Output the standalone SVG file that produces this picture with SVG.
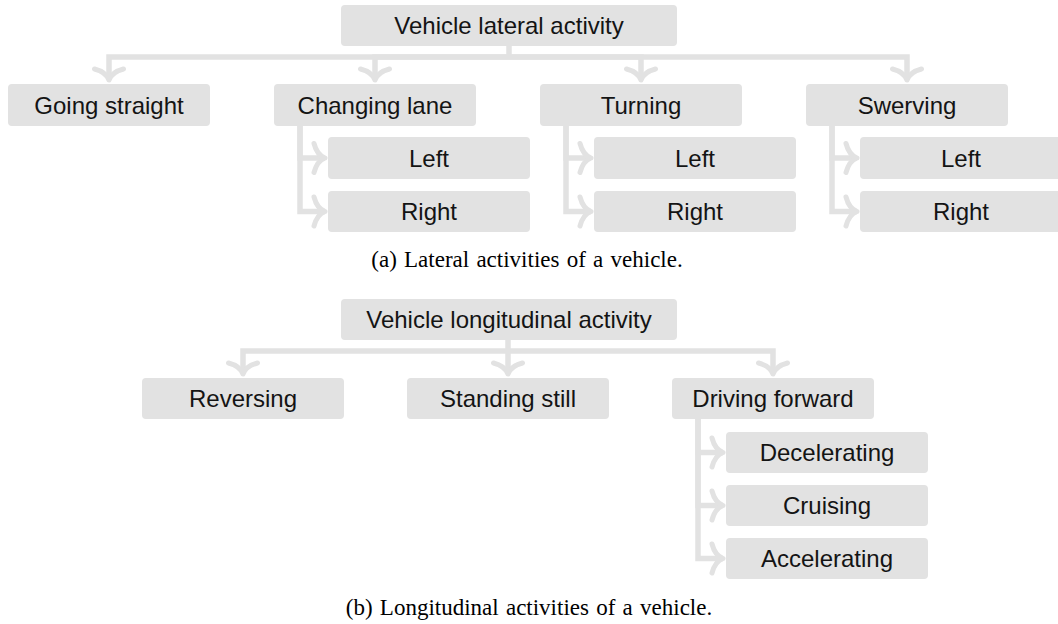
<svg xmlns="http://www.w3.org/2000/svg" width="1058" height="624" viewBox="0 0 1058 624">
<style>
.box{fill:#e2e2e2;}
.lbl{font-family:"Liberation Sans",Arial,sans-serif;font-size:24px;fill:#141414;text-anchor:middle;}
.cap{font-family:"Liberation Serif","Times New Roman",serif;font-size:23px;fill:#000;text-anchor:middle;word-spacing:1.5px;}
.con{fill:none;stroke:#e2e2e2;stroke-width:5.5;stroke-linejoin:miter;marker-end:url(#ah);}
.link{fill:none;stroke:#e2e2e2;stroke-width:5.5;}
</style>
<defs>
<marker id="ah" markerUnits="userSpaceOnUse" orient="auto" refX="0" refY="0" markerWidth="40" markerHeight="40" overflow="visible">
<path d="M -11 -14.5 Q -8 -3 0 0 Q -8 3 -11 14.5" fill="none" stroke="#e2e2e2" stroke-width="5" stroke-linecap="round" stroke-linejoin="round"/>
</marker>
</defs>
<g id="connectors">
<path class="link" d="M 509 46 V 57"/>
<path class="con" d="M 509 57 H 109 V 80"/>
<path class="con" d="M 509 57 H 375 V 80"/>
<path class="con" d="M 509 57 H 641 V 80"/>
<path class="con" d="M 509 57 H 907 V 80"/>
<path class="con" d="M 300 126 V 158 H 325"/>
<path class="con" d="M 300 126 V 211.5 H 325"/>
<path class="con" d="M 566 126 V 158 H 591"/>
<path class="con" d="M 566 126 V 211.5 H 591"/>
<path class="con" d="M 832 126 V 158 H 857"/>
<path class="con" d="M 832 126 V 211.5 H 857"/>
<path class="link" d="M 508 340 V 351"/>
<path class="con" d="M 508 351 H 243 V 374"/>
<path class="con" d="M 508 351 V 374"/>
<path class="con" d="M 508 351 H 773 V 374"/>
<path class="con" d="M 698 419 V 452.5 H 723"/>
<path class="con" d="M 698 419 V 505.5 H 723"/>
<path class="con" d="M 698 419 V 558.5 H 723"/>
</g>
<g id="lateral-root"><rect class="box" x="341" y="5" width="336" height="41" rx="4"/><text class="lbl" x="509" y="34">Vehicle lateral activity</text></g>
<g id="going-straight"><rect class="box" x="8" y="84" width="202" height="42" rx="4"/><text class="lbl" x="109" y="113.5">Going straight</text></g>
<g id="changing-lane"><rect class="box" x="274" y="84" width="202" height="42" rx="4"/><text class="lbl" x="375" y="113.5">Changing lane</text></g>
<g id="turning"><rect class="box" x="540" y="84" width="202" height="42" rx="4"/><text class="lbl" x="641" y="113.5">Turning</text></g>
<g id="swerving"><rect class="box" x="806" y="84" width="202" height="42" rx="4"/><text class="lbl" x="907" y="113.5">Swerving</text></g>
<g id="cl-left"><rect class="box" x="328" y="137" width="202" height="42" rx="4"/><text class="lbl" x="429" y="167">Left</text></g>
<g id="cl-right"><rect class="box" x="328" y="191" width="202" height="41" rx="4"/><text class="lbl" x="429" y="220">Right</text></g>
<g id="tu-left"><rect class="box" x="594" y="137" width="202" height="42" rx="4"/><text class="lbl" x="695" y="167">Left</text></g>
<g id="tu-right"><rect class="box" x="594" y="191" width="202" height="41" rx="4"/><text class="lbl" x="695" y="220">Right</text></g>
<g id="sw-left"><rect class="box" x="860" y="137" width="202" height="42" rx="4"/><text class="lbl" x="961" y="167">Left</text></g>
<g id="sw-right"><rect class="box" x="860" y="191" width="202" height="41" rx="4"/><text class="lbl" x="961" y="220">Right</text></g>
<text class="cap" x="527" y="267">(a) Lateral activities of a vehicle.</text>
<g id="longitudinal-root"><rect class="box" x="341" y="299" width="336" height="41" rx="4"/><text class="lbl" x="509" y="328">Vehicle longitudinal activity</text></g>
<g id="reversing"><rect class="box" x="142" y="378" width="202" height="41" rx="4"/><text class="lbl" x="243" y="407">Reversing</text></g>
<g id="standing-still"><rect class="box" x="407" y="378" width="202" height="41" rx="4"/><text class="lbl" x="508" y="407">Standing still</text></g>
<g id="driving-forward"><rect class="box" x="672" y="378" width="202" height="41" rx="4"/><text class="lbl" x="773" y="407">Driving forward</text></g>
<g id="decelerating"><rect class="box" x="726" y="432" width="202" height="41" rx="4"/><text class="lbl" x="827" y="461">Decelerating</text></g>
<g id="cruising"><rect class="box" x="726" y="485" width="202" height="41" rx="4"/><text class="lbl" x="827" y="514">Cruising</text></g>
<g id="accelerating"><rect class="box" x="726" y="538" width="202" height="41" rx="4"/><text class="lbl" x="827" y="567">Accelerating</text></g>
<text class="cap" x="529" y="615">(b) Longitudinal activities of a vehicle.</text>
</svg>
